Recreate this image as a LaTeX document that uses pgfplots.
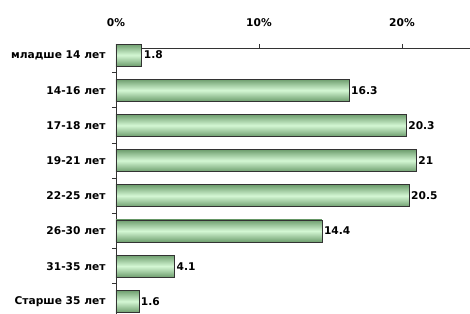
\documentclass[border=0pt]{standalone}
\usepackage{fontspec}
\setmainfont{DejaVu Sans}
\usepackage{pgfplots}
\pgfplotsset{compat=1.18}
\definecolor{barmid}{HTML}{D4F7D4}
\definecolor{baredge}{HTML}{6E9E6E}
\definecolor{barline}{HTML}{333333}
\pgfplotsset{gbar/.style={draw=barline, line width=0.6pt, top color=baredge, bottom color=baredge, middle color=barmid, bar shift=0pt}}
\begin{document}
\begin{tikzpicture}
\useasboundingbox (-116bp,-266bp) rectangle (354bp,48bp);
\begin{axis}[
  at={(0,0)}, anchor=north west,
  scale only axis, width=354bp, height=266bp,
  xbar, bar width=22bp,
  xmin=0, xmax=24.76,
  ymin=-0.36, ymax=7.2,
  axis x line*=top, axis y line*=left,
  axis line style={line width=0.8pt, draw=black!80},
  xtick={0,10,20},
  xticklabel={\pgfmathprintnumber{\tick}\%},
  xticklabel style={yshift=14bp},
  x tick style={draw=black!80, line width=0.8pt},
  tick align=outside,
  major tick length=4bp,
  ytick={0,...,7},
  yticklabels={Старше 35 лет,31-35 лет,26-30 лет,22-25 лет,19-21 лет,17-18 лет,14-16 лет,младше 14 лет},
  y tick style={draw=none},
  extra y ticks={0.5,1.5,2.5,3.5,4.5,5.5,6.5},
  extra y tick labels={},
  extra y tick style={y tick style={draw=black!80, line width=0.8pt}, tick align=outside, major tick length=4bp},
  ticklabel style={font=\bfseries\fontsize{10.7}{12}\selectfont},
  yticklabel style={xshift=-3bp},
  /pgf/number format/assume math mode=true,
  nodes near coords,
  nodes near coords style={font=\bfseries\fontsize{10.7}{12}\selectfont, anchor=west, xshift=-1.5bp},
  clip=false,
]
\addplot[gbar] coordinates {(1.8,7)};
\addplot[gbar] coordinates {(16.3,6)};
\addplot[gbar] coordinates {(20.3,5)};
\addplot[gbar] coordinates {(21,4)};
\addplot[gbar] coordinates {(20.5,3)};
\addplot[gbar] coordinates {(14.4,2)};
\addplot[gbar] coordinates {(4.1,1)};
\addplot[gbar] coordinates {(1.6,0)};
\end{axis}
\end{tikzpicture}
\end{document}
